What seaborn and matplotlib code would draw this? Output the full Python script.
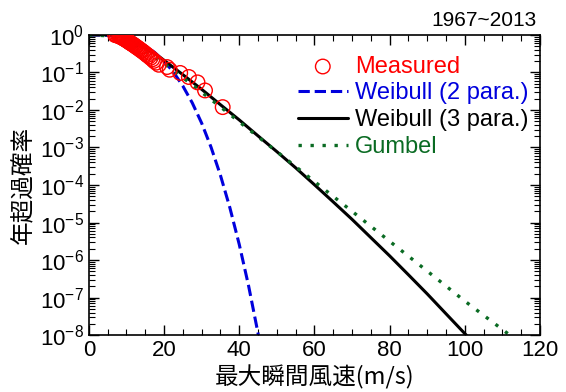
import numpy as np
import matplotlib
matplotlib.use("Agg")
import matplotlib.pyplot as plt
import matplotlib.ticker as mticker
import seaborn as sns

# measured annual maxima (m/s) and their exceedance probability
measured_speed = [35.6, 30.9, 28.9, 26.6, 24.3, 21.5, 20.8, 18.6, 17.9, 17.3,
                  16.9, 16.4, 16.0, 15.5, 15.2, 14.8, 14.5, 14.1, 13.8, 13.5,
                  13.2, 12.9, 12.6, 12.4, 12.1, 11.9, 11.6, 11.4, 11.1, 10.9,
                  10.7, 10.5, 10.3, 10.1, 9.9, 9.7, 9.5, 9.3, 9.1, 8.9,
                  8.7, 8.5, 8.3, 8.1, 7.8, 7.4, 7.0]
measured_prob = [0.0119, 0.0331, 0.0543, 0.0755, 0.0968, 0.118, 0.139, 0.160, 0.182, 0.203,
                 0.224, 0.245, 0.267, 0.288, 0.309, 0.330, 0.352, 0.373, 0.394, 0.415,
                 0.437, 0.458, 0.479, 0.500, 0.521, 0.543, 0.564, 0.585, 0.606, 0.627,
                 0.649, 0.670, 0.691, 0.712, 0.733, 0.755, 0.776, 0.797, 0.818, 0.839,
                 0.861, 0.882, 0.903, 0.924, 0.945, 0.967, 0.988]

# Weibull (2 para.)
w2_speed = [0, 2.5, 5, 7.5, 10, 12.5, 15, 17.5, 20, 22.5, 25, 27.5, 30, 32.5, 35,
            37.5, 40, 42.5, 45.1]
w2_prob = [1.0, 0.9968, 0.975, 0.918, 0.818, 0.676, 0.508, 0.341, 0.201, 0.102,
           0.0435, 0.0155, 4.47e-3, 1.02e-3, 1.82e-4, 2.51e-5, 2.63e-6, 2.04e-7, 1.0e-8]

# Weibull (3 para.)
w3_speed = [0, 9, 10, 12, 15, 19, 25, 30, 35, 40, 45, 50, 55, 60, 65, 70, 75, 80,
            85, 90, 95, 100.4]
w3_prob = [1.0, 1.0, 0.912, 0.708, 0.468, 0.251, 0.0871, 0.0355, 0.0138, 5.43e-3,
           2.04e-3, 7.76e-4, 2.88e-4, 1.02e-4, 3.55e-5, 1.22e-5, 3.98e-6, 1.30e-6,
           4.07e-7, 1.26e-7, 3.72e-8, 1.0e-8]

# Gumbel
gum_speed = [0, 5, 10, 15, 20, 25, 30, 35, 40, 45, 50, 60, 70, 80, 90, 100, 112]
gum_prob = [0.9994, 0.948, 0.693, 0.376, 0.172, 0.0729, 0.0297, 0.0121, 4.83e-3,
            1.94e-3, 7.77e-4, 1.24e-4, 2.0e-5, 3.18e-6, 5.1e-7, 8.1e-8, 1.0e-8]

sns.set_style("ticks")
plt.rcParams["font.family"] = ["Liberation Sans", "Noto Sans CJK JP"]
plt.rcParams["mathtext.fontset"] = "custom"
plt.rcParams["mathtext.rm"] = "Liberation Sans"
for key in ["text.color", "axes.labelcolor", "xtick.color", "ytick.color", "axes.edgecolor"]:
    plt.rcParams[key] = "black"

fig, ax = plt.subplots(figsize=(5.66, 3.92), dpi=100)
fig.subplots_adjust(left=0.157, right=0.954, top=0.911, bottom=0.145)

red = "#ff0000"
blue = "#0000dd"
green = "#0a6b23"

sns.scatterplot(x=measured_speed, y=measured_prob, ax=ax, marker="o", s=110,
                facecolor="none", edgecolor=red, linewidth=1.0, label="Measured", zorder=5)
sns.lineplot(x=w2_speed, y=w2_prob, ax=ax, color=blue, lw=2.2, linestyle="--",
             label="Weibull (2 para.)", sort=False)
sns.lineplot(x=w3_speed, y=w3_prob, ax=ax, color="black", lw=2.2,
             label="Weibull (3 para.)", sort=False)
sns.lineplot(x=gum_speed, y=gum_prob, ax=ax, color=green, lw=2.4,
             linestyle=(0, (1, 2.6)), label="Gumbel", sort=False)

ax.set_yscale("log")
ax.set_xlim(0, 120)
ax.set_ylim(1e-8, 1)
ax.xaxis.set_major_locator(mticker.MultipleLocator(20))
ax.xaxis.set_minor_locator(mticker.MultipleLocator(5))
ax.yaxis.set_major_locator(mticker.LogLocator(base=10, numticks=20))
ax.yaxis.set_minor_locator(mticker.LogLocator(base=10, subs=np.arange(2, 10), numticks=100))
ax.yaxis.set_minor_formatter(mticker.NullFormatter())

ax.tick_params(which="both", direction="in", top=True, right=True, labelsize=16)
ax.tick_params(which="major", length=7, width=1)
ax.tick_params(which="minor", length=4, width=0.8)
for s in ax.spines.values():
    s.set_linewidth(1.2)

ax.set_xlabel("最大瞬間風速(m/s)", fontsize=17, labelpad=3,
              family=["Noto Sans CJK JP"])
ax.set_ylabel("年超過確率", fontsize=17, labelpad=3,
              family=["Noto Sans CJK JP"])

ax.text(0.993, 1.03, "1967~2013", transform=ax.transAxes, ha="right", va="baseline",
        fontsize=15)

leg = ax.legend(loc="upper right", bbox_to_anchor=(1.0, 0.97), frameon=False,
                fontsize=17, handlelength=2.1, handletextpad=0.3, labelspacing=0.2,
                borderaxespad=0.1)
for txt, c in zip(leg.get_texts(), [red, blue, "black", green]):
    txt.set_color(c)

fig.savefig("out.png", dpi=100)
